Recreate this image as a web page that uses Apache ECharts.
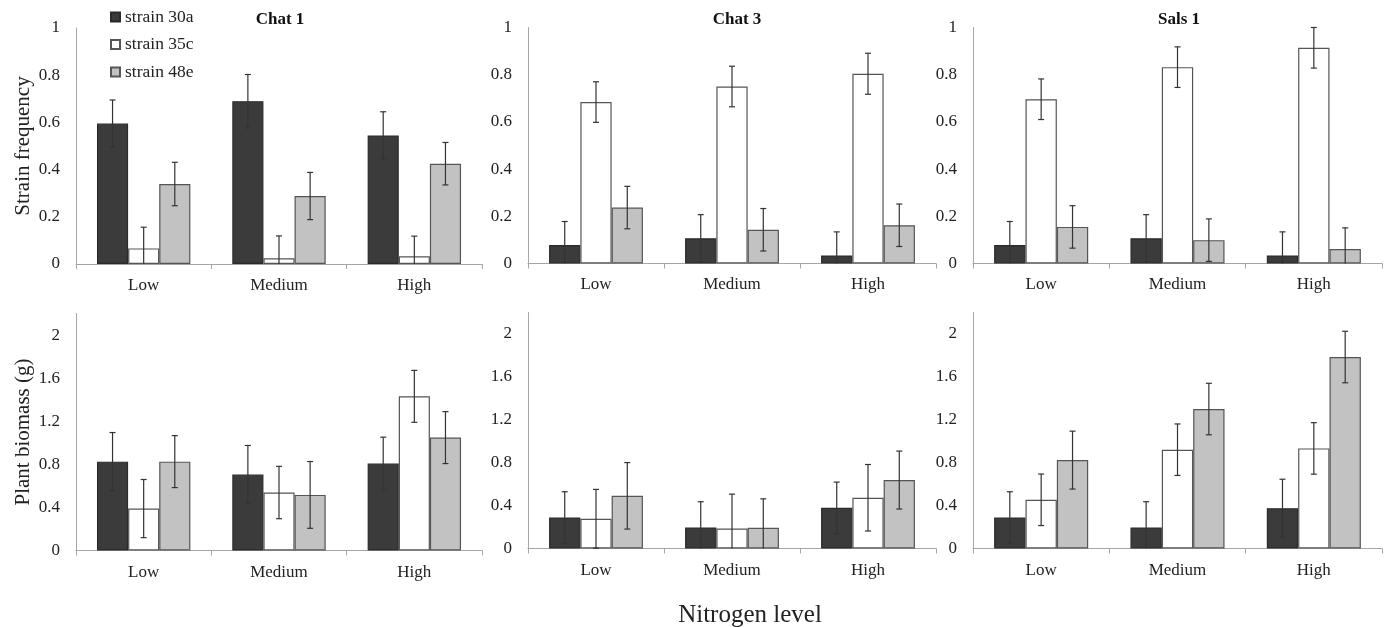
<!DOCTYPE html>
<html><head><meta charset="utf-8">
<script src="https://cdn.jsdelivr.net/npm/echarts@6/dist/echarts.min.js"></script>
<style>html,body{margin:0;padding:0;background:#fff}#c{width:1390px;height:627px}</style>
</head><body><div id="c"></div>
<script>
const categories = ['Low', 'Medium', 'High'];
const strains = ['strain 30a', 'strain 35c', 'strain 48e'];
const panelTitles = ['Chat 1', 'Chat 3', 'Sals 1'];
const freqTicks = [0, 0.2, 0.4, 0.6, 0.8, 1];
const biomassTicks = [0, 0.4, 0.8, 1.2, 1.6, 2];

// rows: strain 30a, strain 35c, strain 48e ; columns: Low, Medium, High
const chat1FreqMean = [[0.595, 0.69, 0.545], [0.066, 0.024, 0.033], [0.339, 0.288, 0.425]];
const chat1FreqErr  = [[0.10, 0.113, 0.10], [0.09, 0.095, 0.085], [0.092, 0.10, 0.09]];
const chat3FreqMean = [[0.078, 0.107, 0.034], [0.684, 0.75, 0.804], [0.237, 0.143, 0.162]];
const chat3FreqErr  = [[0.10, 0.10, 0.10], [0.086, 0.086, 0.087], [0.09, 0.09, 0.09]];
const sals1FreqMean = [[0.078, 0.107, 0.034], [0.696, 0.832, 0.914], [0.155, 0.099, 0.061]];
const sals1FreqErr  = [[0.10, 0.10, 0.10], [0.086, 0.086, 0.086], [0.09, 0.09, 0.09]];

const chat1BioMean = [[0.825, 0.705, 0.807], [0.389, 0.538, 1.431], [0.825, 0.516, 1.048]];
const chat1BioErr  = [[0.27, 0.27, 0.245], [0.27, 0.243, 0.241], [0.241, 0.31, 0.241]];
const chat3BioMean = [[0.289, 0.196, 0.379], [0.277, 0.187, 0.473], [0.491, 0.193, 0.638]];
const chat3BioErr  = [[0.24, 0.24, 0.24], [0.274, 0.32, 0.31], [0.31, 0.27, 0.27]];
const sals1BioMean = [[0.289, 0.196, 0.376], [0.454, 0.921, 0.933], [0.824, 1.30, 1.785]];
const sals1BioErr  = [[0.24, 0.24, 0.27], [0.24, 0.24, 0.24], [0.27, 0.24, 0.24]];

const panels = [
  {mean: chat1FreqMean, err: chat1FreqErr, max: 1, interval: 0.2},
  {mean: chat3FreqMean, err: chat3FreqErr, max: 1, interval: 0.2},
  {mean: sals1FreqMean, err: sals1FreqErr, max: 1, interval: 0.2},
  {mean: chat1BioMean, err: chat1BioErr, max: 2.2, interval: 0.4},
  {mean: chat3BioMean, err: chat3BioErr, max: 2.2, interval: 0.4},
  {mean: sals1BioMean, err: sals1BioErr, max: 2.2, interval: 0.4}
];

const FONT = '"Liberation Serif", "Times New Roman", serif';
const GAP = 0.31;
const grids = [
  {left: 76, top: 28, width: 406, height: 236},
  {left: 528, top: 27.5, width: 408, height: 236},
  {left: 973, top: 27.5, width: 409, height: 236},
  {left: 76, top: 313.5, width: 406, height: 237},
  {left: 528, top: 312.5, width: 408, height: 236},
  {left: 973, top: 312.5, width: 409, height: 236}
];
const fills = ['#3b3b3b', '#ffffff', '#c2c2c2'];
const borders = ['#2a2a2a', '#555555', '#555555'];

const xAxes = [], yAxes = [], series = [];
panels.forEach((p, gi) => {
  const isTop = gi < 3;
  xAxes.push({
    type: 'category', gridIndex: gi, data: categories,
    axisLine: {lineStyle: {color: '#a6a6a6', width: 1}},
    axisTick: {show: true, length: 5, lineStyle: {color: '#a6a6a6'}},
    axisLabel: {fontFamily: FONT, fontSize: 17, color: '#222', margin: isTop ? 13 : 14}
  });
  const validTicks = isTop ? freqTicks : biomassTicks;
  yAxes.push({
    type: 'value', gridIndex: gi, min: 0, max: p.max, interval: p.interval,
    splitLine: {show: false},
    axisLine: {show: true, lineStyle: {color: '#a6a6a6', width: 1}},
    axisTick: {show: false},
    axisLabel: {fontFamily: FONT, fontSize: 17, color: '#222', margin: 16,
      formatter: v => validTicks.some(t => Math.abs(t - v) < 1e-9) ? String(+v.toFixed(1)) : ''},
    name: gi === 0 ? 'Strain frequency' : (gi === 3 ? 'Plant biomass (g)' : ''),
    nameLocation: 'middle', nameGap: 42,
    nameTextStyle: {fontFamily: FONT, fontSize: 21, color: '#222'}
  });
  p.mean.forEach((row, si) => {
    series.push({
      type: 'bar', name: strains[si], xAxisIndex: gi, yAxisIndex: gi,
      data: row, barGap: '0%', barCategoryGap: (GAP * 100) + '%',
      itemStyle: {color: fills[si], borderColor: borders[si], borderWidth: 1.2},
      emphasis: {disabled: true}, animation: false
    });
  });
  const errData = [];
  p.mean.forEach((row, si) => row.forEach((m, ci) => errData.push([ci, si, m, p.err[si][ci]])));
  series.push({
    type: 'custom', xAxisIndex: gi, yAxisIndex: gi, z: 10, animation: false,
    encode: {x: 0, y: 2}, silent: true,
    renderItem: (params, api) => {
      const ci = api.value(0), si = api.value(1), m = api.value(2), e = api.value(3);
      const catW = api.size([1, 0])[0];
      const bw = catW * (1 - GAP) / 3;
      const cx = api.coord([ci, m])[0] + (si - 1) * bw;
      const lo = Math.max(0, m - e);
      const yT = api.coord([ci, m + e])[1];
      const yB = api.coord([ci, lo])[1];
      const st = {stroke: '#333', lineWidth: 1.2};
      const ch = [
        {type: 'line', shape: {x1: cx, y1: yT, x2: cx, y2: yB}, style: st},
        {type: 'line', shape: {x1: cx - 3, y1: yT, x2: cx + 3, y2: yT}, style: st}
      ];
      if (m - e > 0) ch.push({type: 'line', shape: {x1: cx - 3, y1: yB, x2: cx + 3, y2: yB}, style: st});
      return {type: 'group', children: ch};
    },
    data: errData
  });
});

const titles = panelTitles.map((t, i) => ({
  text: t, left: [275, 732, 1174][i], top: 6, textAlign: 'center',
  textStyle: {fontFamily: FONT, fontSize: 17, fontWeight: 'bold', color: '#111'}
}));
titles.push({text: 'Nitrogen level', left: 745, top: 598, textAlign: 'center',
  textStyle: {fontFamily: FONT, fontSize: 25, fontWeight: 'normal', color: '#222'}});

const chart = echarts.init(document.getElementById('c'), null, {renderer: 'canvas'});
chart.setOption({
  backgroundColor: '#fff', animation: false,
  title: titles,
  legend: {data: strains.map(s => ({name: s, icon: 'rect'})), orient: 'vertical', left: 110, top: 8,
    padding: 0, itemWidth: 9, itemHeight: 9, itemGap: 9.5,
    textStyle: {fontFamily: FONT, fontSize: 17.5, color: '#222', padding: [0, 0, 0, 0]}, selectedMode: false},
  grid: grids, xAxis: xAxes, yAxis: yAxes, series: series
});
</script></body></html>
